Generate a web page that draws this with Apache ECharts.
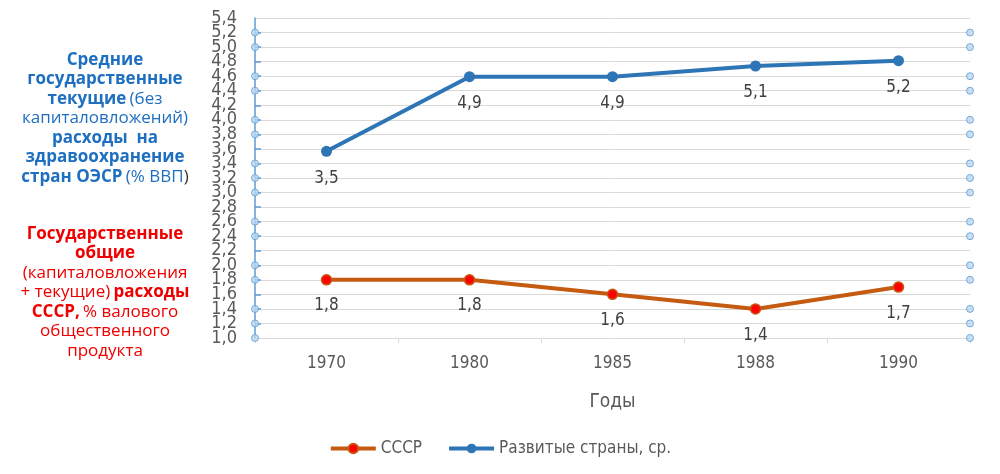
<!DOCTYPE html>
<html><head><meta charset="utf-8">
<script src="https://cdn.jsdelivr.net/npm/echarts@6/dist/echarts.min.js"></script>
<style>html,body{margin:0;padding:0;background:#fff}#c{width:1000px;height:474px}</style>
</head><body><div id="c"></div>
<script>
const years = ['1970','1980','1985','1988','1990'];
const ussr = [1.8, 1.8, 1.6, 1.4, 1.7];
const developed = [3.5, 4.9, 4.9, 5.1, 5.2];
const yMin = 1.0, yMax = 5.4, yStep = 0.2;
const markerTicks = [5.2,5.0,4.6,4.4,4.0,3.8,3.4,3.2,3.0,2.6,2.4,2.0,1.8,1.4,1.2,1.0];
const FONT = '"Liberation Sans Narrow","DejaVu Sans Condensed","Liberation Sans",sans-serif';
const TFONT = '"Open Sans","Noto Sans",sans-serif';
const fmt = v => String(v).replace('.', ',');
const fmtTick = v => (Math.round(v * 10) / 10).toFixed(1).replace('.', ',');

const tickMarkers = [];
markerTicks.forEach(v => { tickMarkers.push([0, v]); tickMarkers.push([1, v]); });

const labelStyle = {color: '#595959', fontSize: 18, fontFamily: FONT, margin: 18, lineHeight: 9};

const chart = echarts.init(document.getElementById('c'));
chart.setOption({
  animation: false,
  grid: {left: 255, right: 30, top: 18, bottom: 136, containLabel: false},
  xAxis: [
    {type: 'category', data: years, boundaryGap: true,
     axisLine: {lineStyle: {color: '#d9d9d9', width: 1}},
     axisTick: {show: true, length: 5, lineStyle: {color: '#d9d9d9'}},
     axisLabel: {color: '#595959', fontSize: 17, fontFamily: FONT, margin: 17},
     name: 'Годы', nameLocation: 'middle', nameGap: 55,
     nameTextStyle: {color: '#595959', fontSize: 19, fontFamily: FONT}},
    {type: 'value', min: 0, max: 1, show: false, position: 'top'}
  ],
  yAxis: [
    {type: 'value', min: yMin, max: yMax, interval: yStep, position: 'left',
     axisLine: {show: true, lineStyle: {color: '#5B9BD5', width: 1.5}},
     axisTick: {show: true, inside: true, length: 6, lineStyle: {color: '#5B9BD5', width: 1.5}},
     axisLabel: Object.assign({}, labelStyle, {showMinLabel: false, showMaxLabel: false, formatter: fmtTick}),
     splitLine: {lineStyle: {color: '#d9d9d9', width: 1}}},
    {type: 'value', min: 0, max: 6, show: false},
    {type: 'value', min: yMin, max: yMax, interval: yStep, position: 'left',
     axisLine: {show: false}, axisTick: {show: false}, splitLine: {show: false},
     axisLabel: Object.assign({}, labelStyle, {showMinLabel: true, showMaxLabel: true,
       formatter: v => (Math.abs(v - yMin) < 1e-6 || Math.abs(v - yMax) < 1e-6) ? fmtTick(v) : ''})}
  ],
  legend: {
    bottom: 12, left: 'center', itemGap: 25, itemWidth: 45, itemHeight: 12,
    lineStyle: {width: 4},
    textStyle: {color: '#595959', fontSize: 17, fontFamily: FONT},
    data: ['СССР', 'Развитые страны, ср.']
  },
  graphic: [
    {type: 'text', x: 105, y: 50, style: {
      align: 'center',
      text: '{b|Средние}\n{b|государственные}\n{b|текущие} {n|(без}\n{n|капиталовложений)}\n{b|расходы  на}\n{b|здравоохранение}\n{b|стран ОЭСР} {n|(% ВВП}{d|)}',
      rich: {
        b: {fontSize: 17, fontWeight: 'bold', fill: '#1F6FC0', fontFamily: TFONT, lineHeight: 19.5},
        n: {fontSize: 17, fill: '#1F6FC0', fontFamily: TFONT, lineHeight: 19.5},
        d: {fontSize: 17, fill: '#333', fontFamily: TFONT, lineHeight: 19.5}
      }}},
    {type: 'text', x: 105, y: 224, style: {
      align: 'center',
      text: '{b|Государственные}\n{b|общие}\n{n|(капиталовложения}\n{n|+ текущие)} {b|расходы}\n{b|СССР,} {n|% валового}\n{n|общественного}\n{n|продукта}',
      rich: {
        b: {fontSize: 17, fontWeight: 'bold', fill: '#EE0000', fontFamily: TFONT, lineHeight: 19.5},
        n: {fontSize: 17, fill: '#EE0000', fontFamily: TFONT, lineHeight: 19.5}
      }}}
  ],
  series: [
    {name: 'СССР', type: 'line', data: ussr, xAxisIndex: 0, yAxisIndex: 0,
     symbol: 'circle', symbolSize: 10,
     lineStyle: {color: '#C55A11', width: 4},
     itemStyle: {color: '#FF0000', borderColor: '#C55A11', borderWidth: 1.5},
     label: {show: true, position: 'bottom', distance: 12, color: '#404040', fontSize: 17, fontFamily: FONT,
             formatter: p => fmt(p.value)}},
    {name: 'Развитые страны, ср.', type: 'line', data: developed, xAxisIndex: 0, yAxisIndex: 1,
     symbol: 'circle', symbolSize: 11,
     lineStyle: {color: '#2E75B6', width: 4},
     itemStyle: {color: '#2E75B6'},
     label: {show: true, position: 'bottom', distance: 13, color: '#404040', fontSize: 17, fontFamily: FONT,
             formatter: p => fmt(p.value)}},
    {name: 'ticks', type: 'scatter', data: tickMarkers, xAxisIndex: 1, yAxisIndex: 0,
     symbol: 'circle', symbolSize: 7, silent: true, z: 5,
     itemStyle: {color: '#BDD7EE', borderColor: '#5B9BD5', borderWidth: 1}}
  ]
});
</script></body></html>
